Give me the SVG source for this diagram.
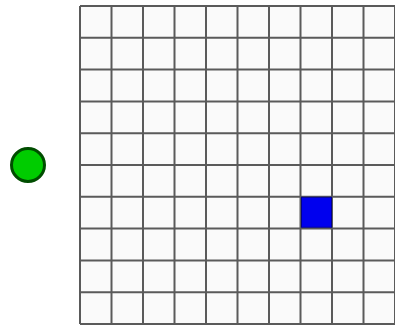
<svg xmlns="http://www.w3.org/2000/svg" width="395" height="326" viewBox="0 0 395 326">
<style>
.g{stroke:#5a5a5a;stroke-width:2;fill:none}
</style>
<rect width="395" height="326" fill="#ffffff"/>
<g id="grid">
<rect x="80" y="6" width="315" height="318" fill="#fafafa"/>
<path class="g" d="M80,6V324M111.5,6V324M143,6V324M174.5,6V324M206,6V324M237.5,6V324M269,6V324M300.5,6V324M332,6V324M363.5,6V324M395,6V324M80,6H395M80,37.8H395M80,69.6H395M80,101.4H395M80,133.2H395M80,165H395M80,196.8H395M80,228.6H395M80,260.4H395M80,292.2H395M80,324H395"/>
</g>
<g id="blue-square">
<rect x="301.5" y="197.3" width="30" height="30" fill="#0000ee" stroke="#00008b" stroke-width="1"/>
</g>
<g id="green-circle">
<circle cx="28" cy="165" r="16.5" fill="#00cc00" stroke="#004d00" stroke-width="3"/>
</g>
</svg>
